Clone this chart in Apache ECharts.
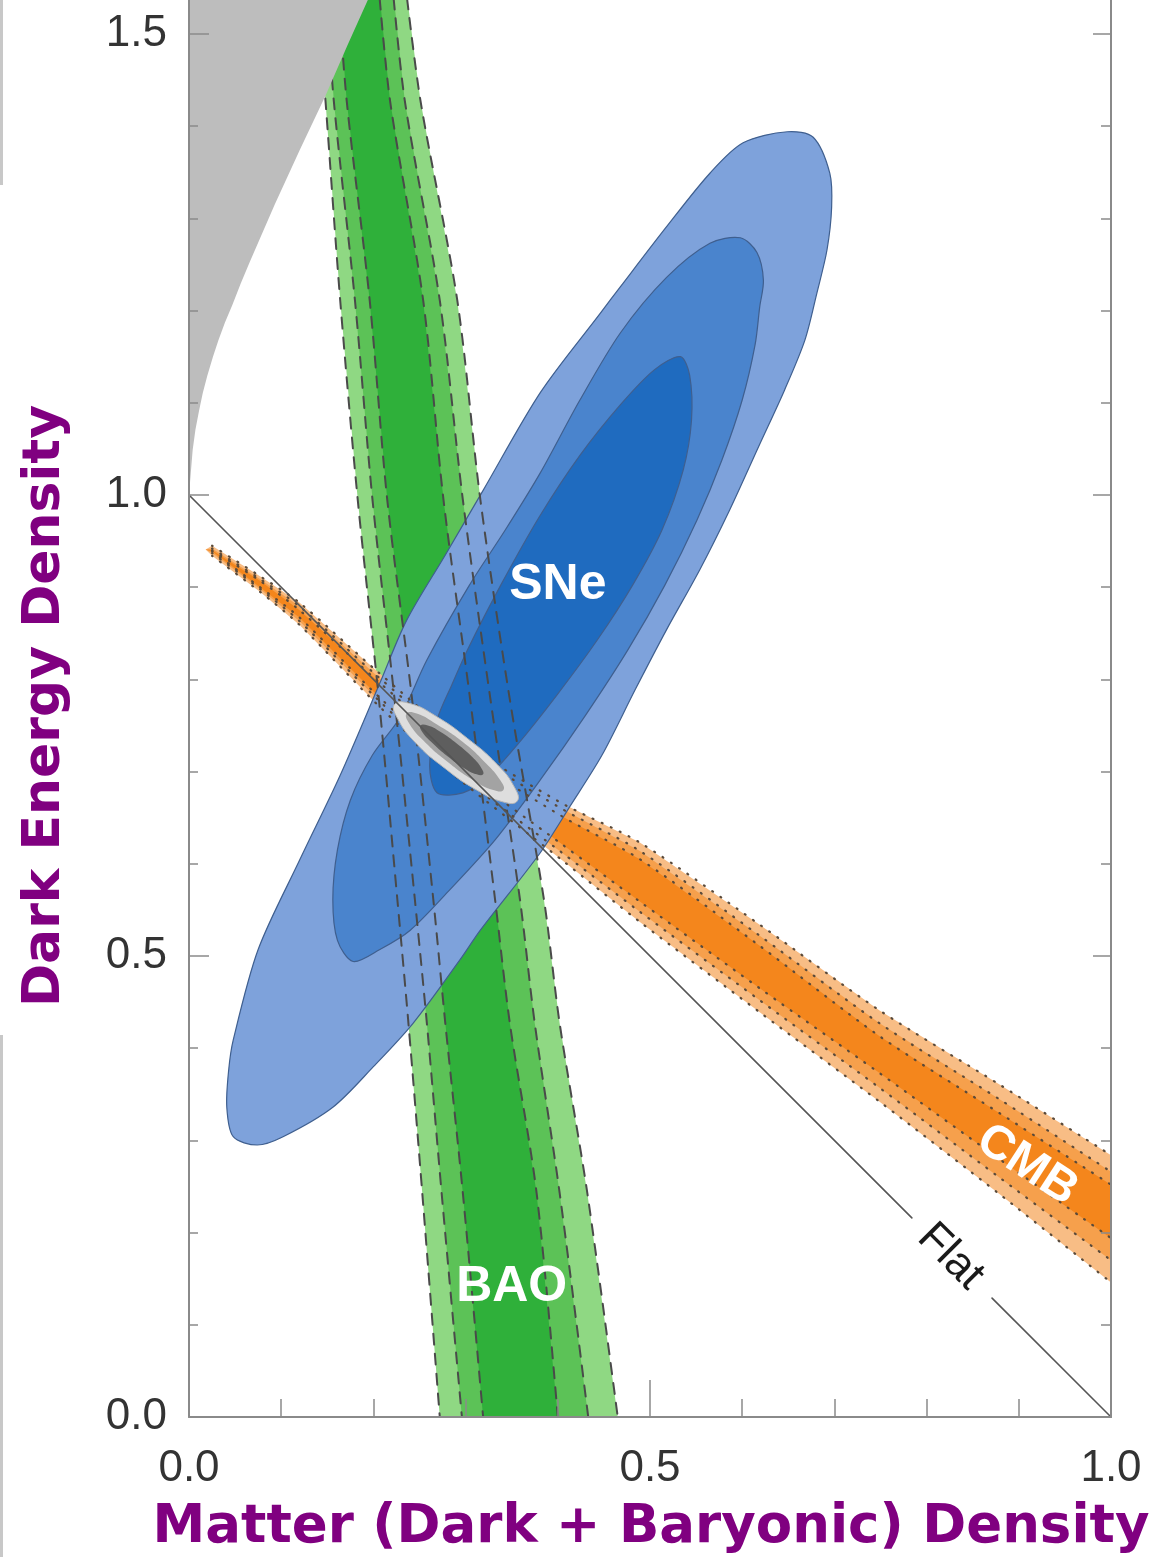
<!DOCTYPE html>
<html>
<head>
<meta charset="utf-8">
<script src="https://cdn.jsdelivr.net/npm/echarts@6/dist/echarts.min.js"></script>
<style>
  html, body { margin: 0; padding: 0; background: #ffffff; }
  #chart { width: 1165px; height: 1557px; }
</style>
</head>
<body>
<div id="chart"></div>
<script>
// ---------- cosmological constraint contours (Omega_m, Omega_Lambda) ----------

// BAO band: edge abscissae sampled at common ordinates
const baoY       = [1.56, 1.428, 1.211, 0.995, 0.778, 0.561, 0.427, 0.243, 0.0];
const baoOuterL  = [0.138, 0.148, 0.164, 0.183, 0.206, 0.226, 0.238, 0.253, 0.272];
const baoMidL    = [0.148, 0.157, 0.180, 0.199, 0.223, 0.245, 0.258, 0.274, 0.296];
const baoInnerL  = [0.161, 0.171, 0.196, 0.215, 0.242, 0.265, 0.278, 0.297, 0.319];
const baoInnerR  = [0.205, 0.218, 0.254, 0.276, 0.305, 0.332, 0.348, 0.377, 0.400];
const baoMidR    = [0.220, 0.234, 0.272, 0.297, 0.327, 0.359, 0.375, 0.402, 0.433];
const baoOuterR  = [0.234, 0.251, 0.291, 0.316, 0.348, 0.385, 0.402, 0.432, 0.465];

// CMB band: upper / lower ordinates sampled at common abscissae
const cmbX       = [0.018, 0.025, 0.077, 0.120, 0.205, 0.294, 0.402, 0.489, 0.619, 0.749, 0.880, 1.000];
const cmbOuterUp = [0.941, 0.945, 0.912, 0.883, 0.808, 0.734, 0.667, 0.623, 0.534, 0.441, 0.360, 0.284];
const cmbOuterLo = [0.941, 0.934, 0.895, 0.859, 0.772, 0.691, 0.606, 0.537, 0.439, 0.342, 0.241, 0.146];
const cmbMidUp   = [0.941, 0.942, 0.909, 0.879, 0.803, 0.729, 0.661, 0.614, 0.522, 0.427, 0.344, 0.266];
const cmbMidLo   = [0.941, 0.937, 0.898, 0.863, 0.778, 0.696, 0.614, 0.548, 0.452, 0.357, 0.259, 0.170];
const cmbInnerUp = [0.941, 0.940, 0.907, 0.875, 0.798, 0.723, 0.653, 0.605, 0.511, 0.413, 0.329, 0.252];
const cmbInnerLo = [0.941, 0.939, 0.900, 0.867, 0.782, 0.703, 0.623, 0.559, 0.465, 0.373, 0.279, 0.194];

// Supernova confidence contours (closed outlines)
const snOuter = [
  [0.649,1.394],[0.677,1.388],[0.695,1.349],[0.697,1.312],[0.692,1.266],[0.681,1.219],
  [0.668,1.168],[0.646,1.114],[0.618,1.053],[0.586,0.983],[0.554,0.919],[0.518,0.854],
  [0.484,0.789],[0.448,0.718],[0.413,0.662],[0.381,0.612],[0.316,0.528],[0.294,0.496],
  [0.243,0.427],[0.200,0.380],[0.156,0.336],[0.102,0.304],[0.074,0.295],[0.048,0.304],
  [0.041,0.336],[0.043,0.376],[0.048,0.409],[0.075,0.507],[0.120,0.604],[0.164,0.696],
  [0.207,0.796],[0.236,0.864],[0.278,0.935],[0.319,1.005],[0.381,1.111],[0.446,1.197],
  [0.468,1.226],[0.518,1.291],[0.565,1.349],[0.601,1.382]
];
const snMid = [
  [0.598,1.279],[0.616,1.263],[0.623,1.233],[0.619,1.204],[0.614,1.163],[0.600,1.103],
  [0.578,1.038],[0.551,0.973],[0.516,0.902],[0.476,0.832],[0.430,0.761],[0.381,0.691],
  [0.332,0.626],[0.283,0.572],[0.240,0.528],[0.207,0.507],[0.178,0.494],[0.161,0.517],
  [0.156,0.561],[0.161,0.615],[0.175,0.669],[0.199,0.718],[0.229,0.759],[0.258,0.821],
  [0.304,0.902],[0.343,0.962],[0.381,1.024],[0.424,1.103],[0.468,1.176],[0.518,1.236],
  [0.565,1.273]
];
const snInner = [
  [0.533,1.150],[0.543,1.130],[0.545,1.081],[0.536,1.027],[0.513,0.962],[0.481,0.902],
  [0.443,0.843],[0.399,0.783],[0.356,0.729],[0.323,0.693],[0.297,0.677],[0.269,0.677],
  [0.261,0.707],[0.269,0.756],[0.285,0.794],[0.302,0.832],[0.338,0.902],[0.381,0.978],
  [0.424,1.043],[0.468,1.098],[0.505,1.136]
];

// Combined constraint (all three probes)
const jointOuter = [
  [0.356,0.668],[0.341,0.667],[0.312,0.680],[0.277,0.704],[0.245,0.732],[0.226,0.758],
  [0.223,0.773],[0.239,0.774],[0.268,0.760],[0.302,0.736],[0.334,0.708],[0.353,0.683]
];
const jointMid = [
  [0.341,0.680],[0.330,0.680],[0.308,0.691],[0.280,0.711],[0.255,0.733],[0.239,0.752],
  [0.236,0.763],[0.247,0.763],[0.269,0.751],[0.297,0.732],[0.322,0.709],[0.338,0.690]
];
const jointInner = [
  [0.319,0.697],[0.312,0.697],[0.298,0.704],[0.280,0.717],[0.264,0.731],[0.253,0.743],
  [0.251,0.750],[0.259,0.750],[0.273,0.743],[0.291,0.730],[0.307,0.716],[0.317,0.704]
];

// Excluded region with no big bang
const noBigBang = [
  [0,1.0],[0.002,1.025],[0.004,1.049],[0.007,1.071],[0.011,1.092],[0.015,1.111],
  [0.020,1.130],[0.026,1.150],[0.032,1.168],[0.039,1.187],[0.047,1.206],[0.056,1.229],
  [0.066,1.253],[0.093,1.315],[0.120,1.374],[0.148,1.433],[0.172,1.488],[0.194,1.537],
  [0.205,1.56],[0,1.56]
];

// Flat universe line (broken around its label)
const flatA = [[0, 1], [0.784, 0.216]];
const flatB = [[0.871, 0.129], [1, 0]];

// Label anchors
const labelAnchors = { SNe: [0.400, 0.902], BAO: [0.350, 0.141], CMB: [0.909, 0.273], Flat: [0.826, 0.174] };

// Axis tick labels
const xTickLabels = ['0.0', '0.5', '1.0'];
const yTickLabels = ['0.0', '0.5', '1.0', '1.5'];

// ---------- helpers ----------
function vband(left, right, ys) {
  const pts = left.map((x, i) => [x, ys[i]]);
  for (let i = right.length - 1; i >= 0; i--) pts.push([right[i], ys[i]]);
  return pts;
}
function hband(xs, up, lo) {
  const pts = xs.map((x, i) => [x, up[i]]);
  for (let i = xs.length - 1; i >= 0; i--) pts.push([xs[i], lo[i]]);
  return pts;
}
function edge(xs, ys) { return xs.map((x, i) => [x, ys[i]]); }

function area(points, fill, z, opts) {
  opts = opts || {};
  return {
    type: 'custom', coordinateSystem: 'cartesian2d', clip: true, silent: true, z: z,
    data: [points[0]],
    renderItem: function (params, api) {
      return {
        type: 'polygon',
        shape: { points: points.map(p => api.coord(p)), smooth: opts.smooth || 0 },
        style: {
          fill: fill,
          stroke: opts.stroke || null,
          lineWidth: opts.stroke ? (opts.lineWidth || 1.2) : 0
        }
      };
    }
  };
}
function path(points, color, width, dash, z, smooth) {
  return {
    type: 'line', data: points, symbol: 'none', silent: true, z: z, clip: true,
    smooth: smooth || 0,
    lineStyle: { color: color, width: width, type: dash, cap: 'round' }
  };
}

// ---------- colours ----------
const C = {
  baoLight: '#8fd883', baoMid: '#5cc257', baoDark: '#2fb03a',
  cmbLight: '#f8bd85', cmbMid: '#f6a04c', cmbDark: '#f4861c',
  snLight: '#7ea2db', snMid: '#4a84cd', snDark: '#1f6bbf', snEdge: '#3f5f8f',
  nbb: '#bdbdbd',
  jLight: '#dedede', jMid: '#a3a3a3', jDark: '#5e5e5e',
  axis: '#8a8a8a', tickText: '#333333', title: '#800080'
};

const series = [];
// BAO fills
series.push(area(vband(baoOuterL, baoOuterR, baoY), C.baoLight, 2));
series.push(area(vband(baoMidL, baoMidR, baoY), C.baoMid, 3));
series.push(area(vband(baoInnerL, baoInnerR, baoY), C.baoDark, 4));
// CMB fills
series.push(area(hband(cmbX, cmbOuterUp, cmbOuterLo), C.cmbLight, 5));
series.push(area(hband(cmbX, cmbMidUp, cmbMidLo), C.cmbMid, 6));
series.push(area(hband(cmbX, cmbInnerUp, cmbInnerLo), C.cmbDark, 7));
// SNe fills
series.push(area(snOuter, C.snLight, 8, { stroke: C.snEdge, smooth: 0.3 }));
series.push(area(snMid, C.snMid, 9, { stroke: C.snEdge, smooth: 0.3 }));
series.push(area(snInner, C.snDark, 10, { stroke: C.snEdge, smooth: 0.3 }));
// BAO dashed edges
[baoOuterL, baoMidL, baoInnerL, baoInnerR, baoMidR, baoOuterR].forEach(xs => {
  series.push(path(edge(xs, baoY), '#4a4a4a', 2, [11, 9], 11, 0.3));
});
// CMB dotted edges
[cmbOuterUp, cmbMidUp, cmbInnerUp, cmbInnerLo, cmbMidLo, cmbOuterLo].forEach(ys => {
  series.push(path(edge(cmbX.slice(1), ys.slice(1)), '#5a4a3a', 2.2, [1, 9], 11, 0.3));
});
// no-big-bang region
series.push(area(noBigBang, C.nbb, 12, { smooth: 0 }));
// combined constraint
series.push(area(jointOuter, C.jLight, 13, { smooth: 0.5, stroke: '#b8b8b8', lineWidth: 1 }));
series.push(area(jointMid, C.jMid, 14, { smooth: 0.5 }));
series.push(area(jointInner, C.jDark, 15, { smooth: 0.5 }));
// flat line
series.push(path(flatA, '#555555', 1.6, 'solid', 16));
series.push(path(flatB, '#555555', 1.6, 'solid', 16));
// band labels
series.push({
  type: 'scatter', symbolSize: 0, silent: true, z: 17,
  itemStyle: { opacity: 1 },
  data: ['SNe', 'BAO', 'CMB'].map(n => ({
    name: n, value: labelAnchors[n],
    label: { rotate: n === 'CMB' ? -33 : 0, fontSize: n === 'CMB' ? 48 : 50 }
  })),
  label: {
    show: true, position: 'inside', formatter: '{b}',
    color: '#ffffff', opacity: 1, textBorderWidth: 0,
    fontFamily: 'Liberation Sans', fontWeight: 'bold'
  }
});
series.push({
  type: 'scatter', symbolSize: 0, silent: true, z: 17,
  itemStyle: { opacity: 1 },
  data: [{ name: 'Flat', value: labelAnchors.Flat }],
  label: {
    show: true, position: 'inside', formatter: '{b}', rotate: -45,
    color: '#1a1a1a', opacity: 1, textBorderWidth: 0,
    fontFamily: 'Liberation Sans', fontSize: 44
  }
});

const axisCommon = {
  type: 'value', z: 20,
  axisLine: { show: true, onZero: false, lineStyle: { color: C.axis, width: 2 } },
  splitLine: { show: false },
  minorSplitLine: { show: false }
};

const chart = echarts.init(document.getElementById('chart'), null, { renderer: 'canvas' });
chart.setOption({
  animation: false,
  backgroundColor: '#ffffff',
  grid: { left: 189, right: 54, top: -427, bottom: 140, outerBoundsMode: 'none', containLabel: false },
  xAxis: Object.assign({}, axisCommon, {
    min: 0, max: 1, interval: 0.5,
    axisTick: { show: true, inside: true, length: 37, lineStyle: { color: C.axis, width: 1.5 } },
    minorTick: { show: true, splitNumber: 5, length: 18, lineStyle: { color: C.axis, width: 1.5 } },
    axisLabel: {
      show: true, margin: 30, fontSize: 44, fontFamily: 'Liberation Sans', color: C.tickText,
      formatter: v => { const s = v.toFixed(1); return xTickLabels.includes(s) ? s : ''; }
    }
  }),
  yAxis: [
    Object.assign({}, axisCommon, {
      min: 0, max: 2, interval: 0.5, position: 'left',
      axisTick: { show: true, inside: true, length: 20, lineStyle: { color: C.axis, width: 1.5 } },
      minorTick: { show: true, splitNumber: 5, length: 9, lineStyle: { color: C.axis, width: 1.5 } },
      axisLabel: {
        show: true, margin: 22, fontSize: 44, fontFamily: 'Liberation Sans', color: C.tickText,
        formatter: v => { const s = v.toFixed(1); return yTickLabels.includes(s) ? s : ''; }
      }
    }),
    Object.assign({}, axisCommon, {
      min: 0, max: 2, interval: 0.5, position: 'right',
      axisTick: { show: true, inside: true, length: 18, lineStyle: { color: C.axis, width: 1.5 } },
      minorTick: { show: true, splitNumber: 5, length: 10, lineStyle: { color: C.axis, width: 1.5 } },
      axisLabel: { show: false }
    })
  ],
  graphic: [
    { type: 'rect', shape: { x: 0, y: 0, width: 3, height: 185 }, style: { fill: '#c8c8c8' }, silent: true },
    { type: 'rect', shape: { x: 0, y: 1035, width: 3, height: 522 }, style: { fill: '#c8c8c8' }, silent: true },
    {
      type: 'text', x: 45, y: 706, rotation: Math.PI / 2, silent: true,
      style: {
        text: 'Dark Energy Density', fill: C.title,
        font: 'bold 52px "DejaVu Sans"', align: 'center', verticalAlign: 'middle'
      }
    },
    {
      type: 'text', x: 651, y: 1528, silent: true,
      style: {
        text: 'Matter (Dark + Baryonic) Density', fill: C.title,
        font: 'bold 53px "DejaVu Sans"', align: 'center', verticalAlign: 'middle'
      }
    }
  ],
  series: series
});
</script>
</body>
</html>
